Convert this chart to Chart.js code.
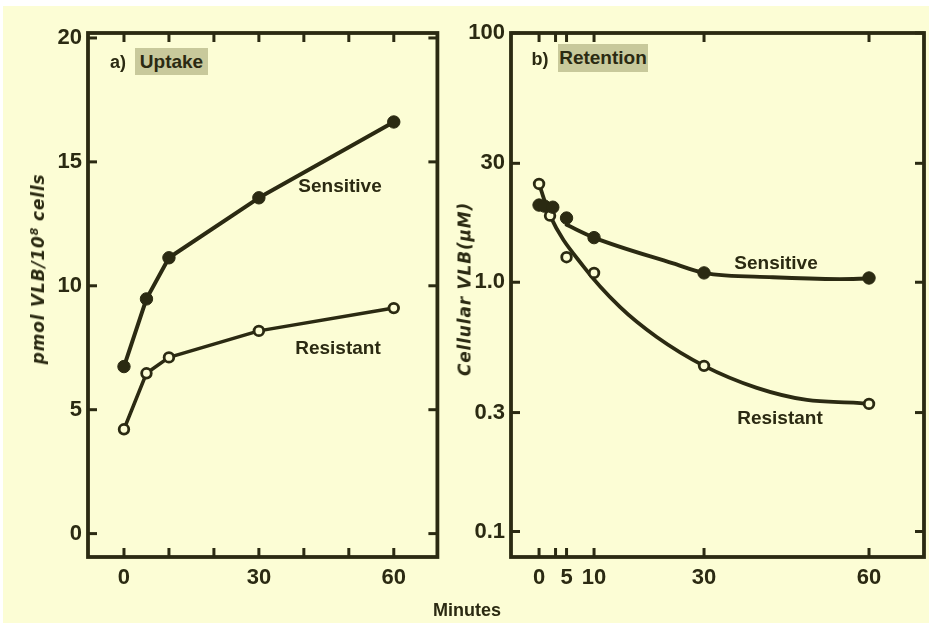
<!DOCTYPE html>
<html><head><meta charset="utf-8">
<script src="https://cdn.jsdelivr.net/npm/chart.js@4"></script>
<style>
html,body{margin:0;padding:0;background:#fff;width:932px;height:627px;overflow:hidden}
#paper{position:absolute;left:3px;top:6px;width:926px;height:617px;background:#fcfdd5}
canvas{position:absolute;top:0}
.t{position:absolute;color:#2b2a12;font-family:"Liberation Sans",Arial,sans-serif;font-weight:bold;white-space:nowrap;line-height:1;transform:translate(-50%,-50%)}
.box{position:absolute;background:#c8c99b;color:#2b2a12;font-family:"Liberation Sans",Arial,sans-serif;font-weight:bold;font-size:19px;display:flex;align-items:center;justify-content:center;white-space:nowrap}
.rot{font-family:"DejaVu Sans",sans-serif;font-style:italic;font-size:17px;letter-spacing:0.8px;transform:translate(-50%,-50%) rotate(-90deg)}
.rot sup{font-size:11px;vertical-align:6px;letter-spacing:0}
</style></head>
<body>
<div id="paper"></div>
<canvas id="c1" width="445" height="627" style="left:0;width:445px;height:627px"></canvas>
<canvas id="c2" width="487" height="627" style="left:445px;width:487px;height:627px"></canvas>

<div class="t" style="left:118px;top:62px;font-size:18px">a)</div>
<div class="box" style="left:135px;top:48px;width:73px;height:27px">Uptake</div>
<div class="t" style="left:540px;top:59px;font-size:18px">b)</div>
<div class="box" style="left:558px;top:44px;width:90px;height:28px">Retention</div>
<div class="t" style="left:340px;top:185px;font-size:19px">Sensitive</div>
<div class="t" style="left:338px;top:347px;font-size:19px">Resistant</div>
<div class="t" style="left:776px;top:262px;font-size:19px">Sensitive</div>
<div class="t" style="left:780px;top:417px;font-size:19px">Resistant</div>
<div class="t" style="left:467px;top:610px;font-size:18px">Minutes</div>
<div class="t rot" style="left:38px;top:269px">pmol VLB/10<sup>8</sup> cells</div>
<div class="t rot" style="left:465px;top:289px">Cellular VLB(μM)</div>

<script>
// ---- data ----
const uptakeMinutes   = [0, 5, 10, 30, 60];
const uptakeSensitive = [6.74, 9.47, 11.13, 13.55, 16.61];
const uptakeResistant = [4.21, 6.47, 7.11, 8.18, 9.10];
const uptakeXTicks  = [0, 10, 20, 30, 40, 50, 60];
const uptakeXLabels = ['0', '', '', '30', '', '', '60'];
const uptakeYTicks  = [0, 5, 10, 15, 20];
const uptakeYLabels = ['0', '5', '10', '15', '20'];

const retSensMinutes = [0, 1, 2.5, 5, 10, 30, 60];
const retSensitive   = [2.04, 2.02, 2.0, 1.81, 1.51, 1.09, 1.04];
const retResMinutes  = [0, 2, 5, 10, 30, 60];
const retResistant   = [2.48, 1.85, 1.26, 1.09, 0.462, 0.325];
const retSensCurveMinutes = [5, 10, 24.4, 30, 42.5, 54.7, 60];
const retSensCurve        = [1.70, 1.51, 1.19, 1.09, 1.047, 1.03, 1.035];
const retResCurveMinutes  = [0, 2, 8.1, 14.7, 21.4, 30, 39.6, 48.7, 57.8, 60];
const retResCurve         = [2.48, 1.85, 1.155, 0.796, 0.603, 0.462, 0.377, 0.337, 0.328, 0.325];
const retXTicks  = [0, 3, 5, 10, 30, 60];
const retXLabels = ['0', '', '5', '10', '30', '60'];
const retYTicks  = [0.1, 0.3, 1, 3, 10];
const retYLabels = ['0.1', '0.3', '1.0', '30', '100'];

// ---- styling ----
const INK = '#2b2a12';
const PAPER = '#fcfdd5';
const tickFont = {family: '"Liberation Sans", Arial, sans-serif', size: 22, weight: 'bold'};
const pts = (xs, ys) => xs.map((x, i) => ({x, y: ys[i]}));

const frameTicks = {
  id: 'frameTicks',
  afterDraw(chart) {
    const {ctx, chartArea: a, scales} = chart;
    const len = 9;
    ctx.save();
    ctx.strokeStyle = INK;
    ctx.lineCap = 'butt';
    ctx.lineWidth = 3;
    const line = (x1, y1, x2, y2) => { ctx.beginPath(); ctx.moveTo(x1, y1); ctx.lineTo(x2, y2); ctx.stroke(); };
    scales.x.ticks.forEach(t => {
      const px = scales.x.getPixelForValue(t.value);
      line(px, a.bottom, px, a.bottom - len);
      line(px, a.top, px, a.top + len);
    });
    scales.y.ticks.forEach(t => {
      const py = scales.y.getPixelForValue(t.value);
      line(a.left, py, a.left + len, py);
      line(a.right, py, a.right - len, py);
    });
    ctx.lineWidth = 3.8;
    ctx.strokeRect(a.left, a.top, a.right - a.left, a.bottom - a.top);
    ctx.restore();
  }
};

function xScale(min, max, ticks, labels) {
  return {
    type: 'linear', min, max,
    afterBuildTicks: s => { s.ticks = ticks.map(v => ({value: v})); },
    afterFit: s => { s.height = 70; },
    ticks: {callback: (v, i) => labels[i], font: tickFont, color: INK, padding: 8, maxRotation: 0, autoSkip: false},
    grid: {display: false, drawTicks: false, tickLength: 0},
    border: {display: false}
  };
}
function yScale(type, min, max, ticks, labels, width) {
  return {
    type, min, max,
    afterBuildTicks: s => { s.ticks = ticks.map(v => ({value: v})); },
    afterFit: s => { s.width = width; },
    ticks: {callback: (v, i) => labels[i], font: tickFont, color: INK, padding: 6, autoSkip: false},
    grid: {display: false, drawTicks: false, tickLength: 0},
    border: {display: false}
  };
}
const common = {
  responsive: false, animation: false, devicePixelRatio: 1,
  plugins: {legend: {display: false}, tooltip: {enabled: false}},
  elements: {line: {borderCapStyle: 'round', borderJoinStyle: 'round'}}
};

new Chart(document.getElementById('c1'), {
  type: 'line',
  data: {datasets: [
    {label: 'Sensitive', data: pts(uptakeMinutes, uptakeSensitive), borderColor: INK, borderWidth: 4,
     pointRadius: 6.2, pointBorderWidth: 1, pointBackgroundColor: INK, pointBorderColor: INK, tension: 0},
    {label: 'Resistant', data: pts(uptakeMinutes, uptakeResistant), borderColor: INK, borderWidth: 3.5,
     pointRadius: 4.8, pointBorderWidth: 2.8, pointBackgroundColor: PAPER, pointBorderColor: INK, tension: 0}
  ]},
  options: Object.assign({}, common, {
    layout: {padding: {left: 0, top: 33, right: 6, bottom: 0}},
    scales: {
      x: xScale(-8, 69.7, uptakeXTicks, uptakeXLabels),
      y: yScale('linear', -0.944, 20.2, uptakeYTicks, uptakeYLabels, 88)
    }
  }),
  plugins: [frameTicks]
});

new Chart(document.getElementById('c2'), {
  type: 'line',
  data: {datasets: [
    {label: 'Sensitive', data: pts(retSensMinutes, retSensitive), showLine: false,
     pointRadius: 6.2, pointBorderWidth: 1, pointBackgroundColor: INK, pointBorderColor: INK},
    {label: 'Resistant', data: pts(retResMinutes, retResistant), showLine: false,
     pointRadius: 4.8, pointBorderWidth: 2.8, pointBackgroundColor: PAPER, pointBorderColor: INK},
    {label: 'Sensitive curve', data: pts(retSensCurveMinutes, retSensCurve), borderColor: INK, borderWidth: 3.8,
     pointRadius: 0, cubicInterpolationMode: 'monotone'},
    {label: 'Resistant curve', data: pts(retResCurveMinutes, retResCurve), borderColor: INK, borderWidth: 3.8,
     pointRadius: 0, cubicInterpolationMode: 'monotone'}
  ]},
  options: Object.assign({}, common, {
    layout: {padding: {left: 0, top: 33, right: 8, bottom: 0}},
    scales: {
      x: xScale(-5.1, 70, retXTicks, retXLabels),
      y: yScale('logarithmic', 0.079, 10, retYTicks, retYLabels, 66)
    }
  }),
  plugins: [frameTicks]
});
</script>
</body></html>
